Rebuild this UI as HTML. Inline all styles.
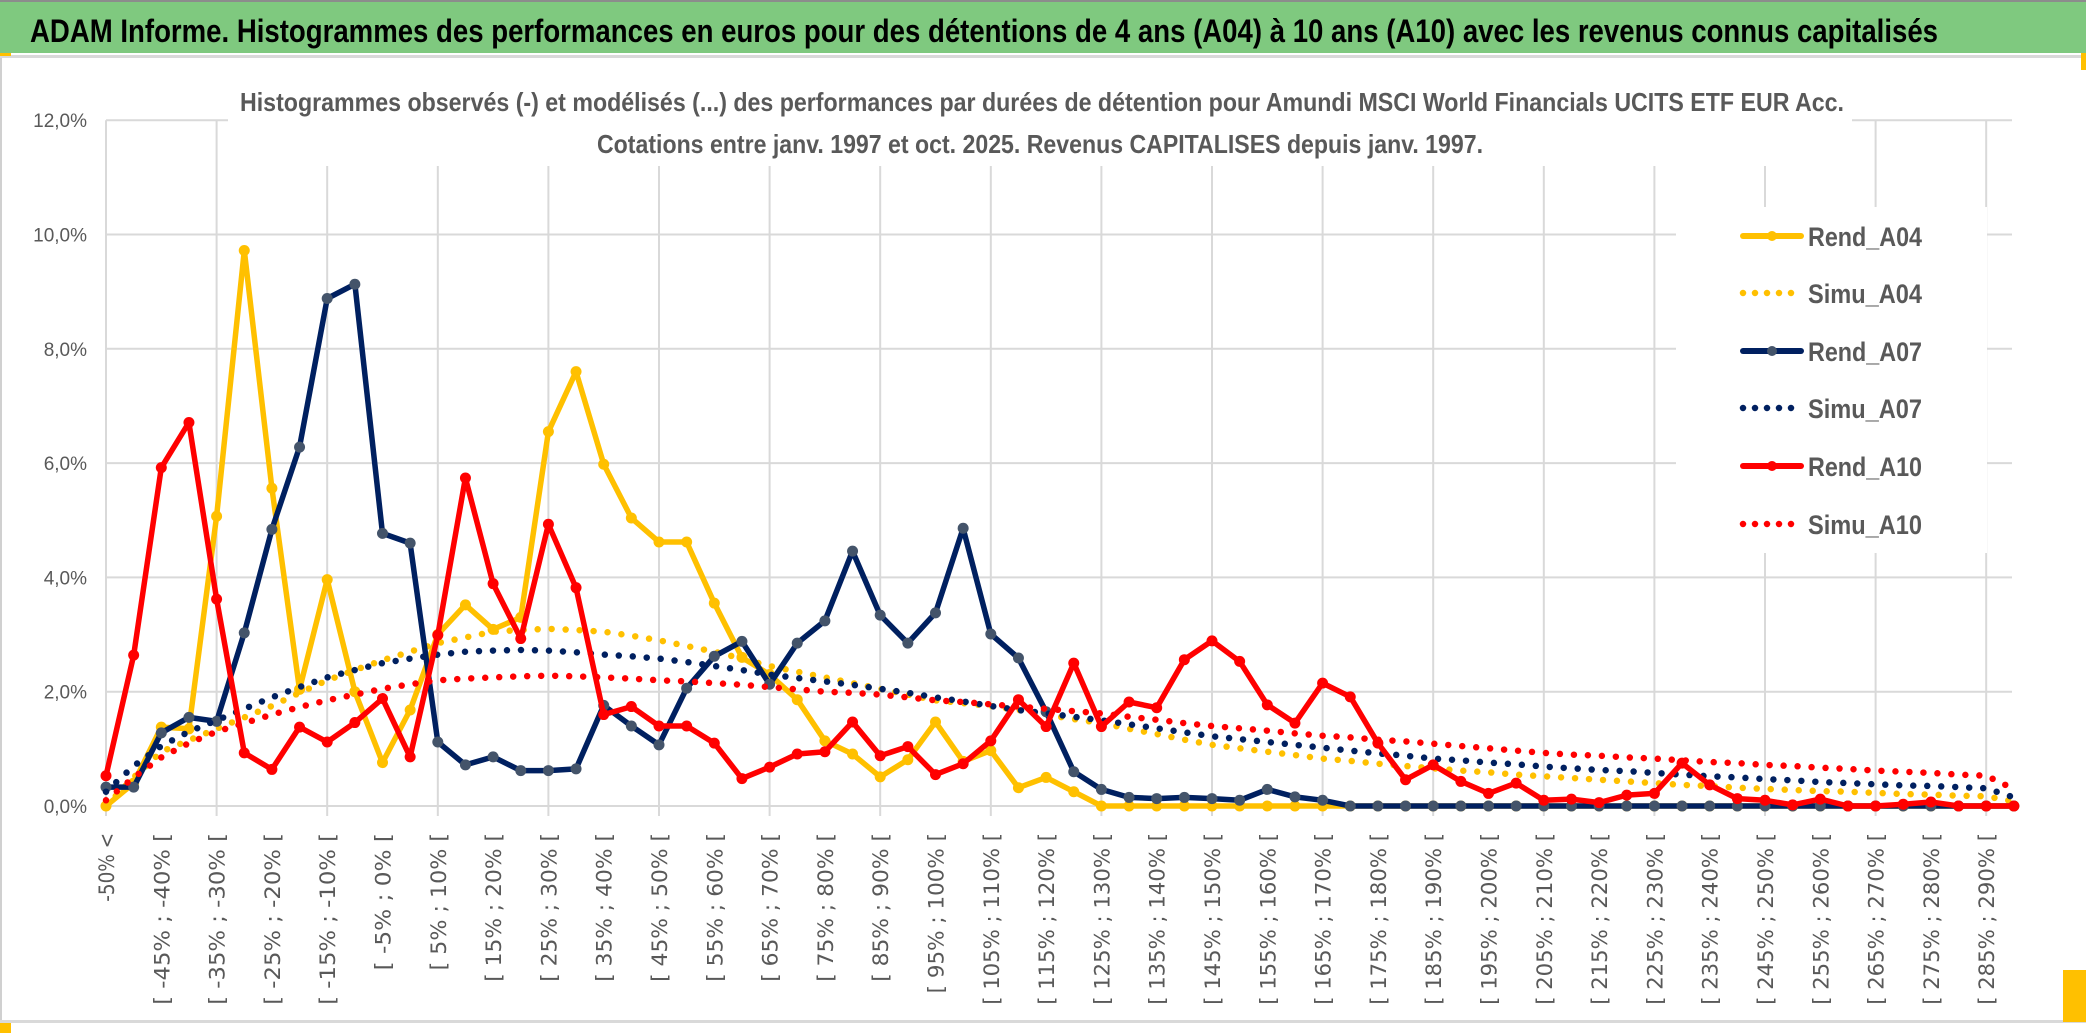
<!DOCTYPE html>
<html><head><meta charset="utf-8"><style>
html,body{margin:0;padding:0;background:#fff;}
svg{display:block;}
</style></head><body>
<svg id="chart" width="2086" height="1033" viewBox="0 0 2086 1033" xmlns="http://www.w3.org/2000/svg">
<rect x="0" y="0" width="2086" height="1033" fill="#fff"/>
<rect x="0" y="0" width="2086" height="2" fill="#8c8c8c"/>
<rect x="0" y="2" width="2086" height="51" fill="#7fc97f"/>
<text x="30" y="42" font-family="Liberation Sans, sans-serif" font-weight="bold" font-size="32" fill="#000" textLength="1908" lengthAdjust="spacingAndGlyphs">ADAM Informe. Histogrammes des performances en euros pour des détentions de 4 ans (A04) à 10 ans (A10) avec les revenus connus capitalisés</text>
<rect x="0" y="55" width="2086" height="3" fill="#d9d9d9"/>
<rect x="0" y="53" width="11" height="3" fill="#ffc000"/>
<rect x="2081" y="53" width="5" height="17" fill="#ffc000"/>
<rect x="0" y="58" width="2" height="965" fill="#d0d0d0"/>
<rect x="0" y="1020" width="2086" height="3" fill="#d9d9d9"/>
<rect x="0" y="1023" width="11" height="10" fill="#ffc000"/>
<rect x="2063" y="970" width="23" height="52" fill="#ffc000"/>
<g id="grid"></g>
<g id="series"></g>
<rect x="228" y="78" width="1624" height="88" fill="#fff"/>
<text x="240" y="111" font-family="Liberation Sans, sans-serif" font-weight="bold" font-size="26" fill="#595959" textLength="1604" lengthAdjust="spacingAndGlyphs">Histogrammes observés (-) et modélisés (...) des performances par durées de détention pour Amundi MSCI World Financials UCITS ETF EUR Acc.</text>
<text x="597" y="153" font-family="Liberation Sans, sans-serif" font-weight="bold" font-size="26" fill="#595959" textLength="886" lengthAdjust="spacingAndGlyphs">Cotations entre janv. 1997 et oct. 2025. Revenus CAPITALISES depuis janv. 1997.</text>
<g id="axes"></g>
<g id="legend"></g>
</svg>
<script>
const rendA04 = [0.0,0.4,1.38,1.35,5.07,9.72,5.56,2.04,3.96,2.0,0.76,1.68,3.0,3.52,3.09,3.3,6.55,7.6,5.98,5.04,4.62,4.62,3.55,2.6,2.3,1.86,1.14,0.91,0.51,0.81,1.47,0.78,0.97,0.32,0.5,0.25,0,0,0,0,0,0,0,0,0,0,0,0,0,0,0,0,0,0,0,0,0,0,0,0,0,0,0,0,0,0,0,0,0,0];
const simuA04 = [0.0,0.5,0.95,1.15,1.35,1.55,1.75,1.98,2.2,2.38,2.55,2.7,2.85,2.95,3.05,3.08,3.1,3.08,3.05,2.98,2.9,2.8,2.7,2.58,2.45,2.35,2.25,2.15,2.05,1.95,1.85,1.8,1.75,1.68,1.6,1.52,1.45,1.35,1.26,1.16,1.07,1.01,0.95,0.89,0.83,0.79,0.74,0.7,0.66,0.62,0.59,0.55,0.52,0.49,0.46,0.43,0.4,0.37,0.35,0.32,0.3,0.28,0.26,0.25,0.23,0.21,0.2,0.18,0.17,0.08];
const rendA07 = [0.33,0.33,1.28,1.55,1.48,3.03,4.84,6.28,8.88,9.13,4.77,4.6,1.12,0.72,0.86,0.62,0.62,0.65,1.76,1.4,1.07,2.06,2.62,2.88,2.13,2.85,3.24,4.46,3.34,2.85,3.38,4.86,3.01,2.59,1.65,0.6,0.29,0.15,0.13,0.15,0.13,0.1,0.29,0.16,0.1,0,0,0,0,0,0,0,0,0,0,0,0,0,0,0,0,0,0,0,0,0,0,0,0,0];
const simuA07 = [0.25,0.7,1.05,1.3,1.5,1.7,1.9,2.08,2.25,2.38,2.5,2.58,2.65,2.7,2.72,2.73,2.72,2.69,2.65,2.62,2.58,2.52,2.45,2.38,2.3,2.24,2.18,2.12,2.05,1.98,1.9,1.83,1.75,1.68,1.62,1.56,1.5,1.43,1.36,1.29,1.22,1.17,1.12,1.07,1.02,0.97,0.92,0.88,0.83,0.8,0.76,0.73,0.69,0.66,0.63,0.61,0.58,0.55,0.52,0.5,0.47,0.45,0.42,0.4,0.38,0.36,0.35,0.33,0.31,0.15];
const rendA10 = [0.53,2.64,5.92,6.71,3.62,0.93,0.64,1.38,1.12,1.46,1.88,0.86,2.99,5.74,3.89,2.93,4.93,3.82,1.6,1.74,1.4,1.4,1.1,0.48,0.68,0.91,0.95,1.47,0.88,1.04,0.55,0.74,1.14,1.86,1.39,2.5,1.39,1.82,1.72,2.56,2.89,2.53,1.77,1.45,2.15,1.91,1.1,0.46,0.72,0.43,0.22,0.4,0.1,0.12,0.06,0.19,0.22,0.75,0.37,0.13,0.1,0.02,0.12,0,0,0.03,0.07,0,0,0];
const simuA10 = [0.1,0.5,0.85,1.1,1.3,1.45,1.6,1.73,1.85,1.95,2.05,2.13,2.2,2.23,2.25,2.27,2.28,2.27,2.25,2.23,2.2,2.18,2.15,2.12,2.08,2.04,2.0,1.98,1.95,1.9,1.85,1.82,1.78,1.74,1.7,1.66,1.62,1.56,1.51,1.45,1.4,1.36,1.32,1.27,1.23,1.2,1.16,1.13,1.09,1.05,1.01,0.97,0.93,0.9,0.88,0.85,0.83,0.8,0.77,0.75,0.72,0.7,0.67,0.65,0.62,0.6,0.58,0.55,0.53,0.3];
const yTicks = [0,2,4,6,8,10,12];
const yTickLabels = ["0,0%","2,0%","4,0%","6,0%","8,0%","10,0%","12,0%"];
const seriesNames = ["Rend_A04","Simu_A04","Rend_A07","Simu_A07","Rend_A10","Simu_A10"];

const NS = "http://www.w3.org/2000/svg";
const N = rendA04.length;
const X0 = 106, STEP = 27.65, Y0 = 806, PPU = 57.15;
function xs(i){ return X0 + i*STEP; }
function ys(v){ return Y0 - v*PPU; }
function mk(tag, attrs, parent){ const e=document.createElementNS(NS,tag); for(const k in attrs) e.setAttribute(k,attrs[k]); parent.appendChild(e); return e; }

function catLabel(k){
  if(k===0) return "-50% <";
  const a = -55+5*k, b = a+5;
  return "[ "+a+"% ; "+b+"% [";
}

const grid = document.getElementById('grid');
yTicks.forEach((t,j)=>{
  const l = mk('line',{x1:X0,x2:2012,y1:ys(t),y2:ys(t),stroke:'#d9d9d9','stroke-width':2},grid);
  
  
});
for(let i=0;i<N;i+=4){
  const l = mk('line',{x1:xs(i),x2:xs(i),y1:ys(12),y2:Y0+10,stroke:'#d9d9d9','stroke-width':2},grid);
  
  
}

const axes = document.getElementById('axes');
yTicks.forEach((t,j)=>{
  const tx = mk('text',{x:87,y:ys(t)+7,'text-anchor':'end','font-family':'Liberation Sans, sans-serif','font-size':19,fill:'#595959'},axes);
  tx.textContent = yTickLabels[j];
  
  
});
for(let k=0;k<N;k+=2){
  const cx = xs(k)+8;
  const lab = catLabel(k);
  const tx = mk('text',{x:cx,y:833,transform:'rotate(-90 '+cx+' 833)','text-anchor':'end','font-family':'DejaVu Sans, sans-serif','font-size':21,fill:'#595959',textLength:(lab.length*11.45).toFixed(1),lengthAdjust:'spacingAndGlyphs'},axes);
  tx.textContent = lab;
  
  
}

const S = document.getElementById('series');
function pts(arr){ return arr.map((v,i)=>xs(i).toFixed(1)+','+ys(v).toFixed(1)).join(' '); }
function solid(arr,color,mcolor,name){
  const g = mk('g',{},S);
  
  
  const p = mk('polyline',{points:pts(arr),fill:'none',stroke:color,'stroke-width':5.5,'stroke-linejoin':'round'},g);
  
  
  arr.forEach((v,i)=>{
    const c = mk('circle',{cx:xs(i),cy:ys(v),r:5.5,fill:mcolor},g);
    
    
  });
}
function dotted(arr,color,name){
  const p = mk('polyline',{points:pts(arr),fill:'none',stroke:color,'stroke-width':6.5,'stroke-linecap':'round','stroke-dasharray':'0 14'},S);
  
  
}
solid(rendA04,'#ffc000','#ffc000','rend-a04');
dotted(simuA04,'#ffc000','simu-a04');
solid(rendA07,'#002060','#44546a','rend-a07');
dotted(simuA07,'#002060','simu-a07');
solid(rendA10,'#ff0000','#ff0000','rend-a10');
dotted(simuA10,'#ff0000','simu-a10');

const L = document.getElementById('legend');
const lb = mk('rect',{x:1676,y:207,width:311,height:346,fill:'#fff'},L);


const lcols = ['#ffc000','#ffc000','#002060','#002060','#ff0000','#ff0000'];
const lmk = ['#ffc000',null,'#44546a',null,'#ff0000',null];
const lys = [236,293,351,408,466,524];
seriesNames.forEach((nm,j)=>{
  const g = mk('g',{},L);
  
  
  const y = lys[j];
  if(lmk[j]){
    mk('line',{x1:1743,x2:1801,y1:y,y2:y,stroke:lcols[j],'stroke-width':6,'stroke-linecap':'round'},g);
    mk('circle',{cx:1772,cy:y,r:5,fill:lmk[j]},g);
  } else {
    mk('line',{x1:1743,x2:1801,y1:y,y2:y,stroke:lcols[j],'stroke-width':6.5,'stroke-linecap':'round','stroke-dasharray':'0 12'},g);
  }
  const t = mk('text',{x:1808,y:y+10,'font-family':'Liberation Sans, sans-serif','font-weight':'bold','font-size':27,fill:'#595959',textLength:114,lengthAdjust:'spacingAndGlyphs'},g);
  t.textContent = nm;
});
</script>
</body></html>
